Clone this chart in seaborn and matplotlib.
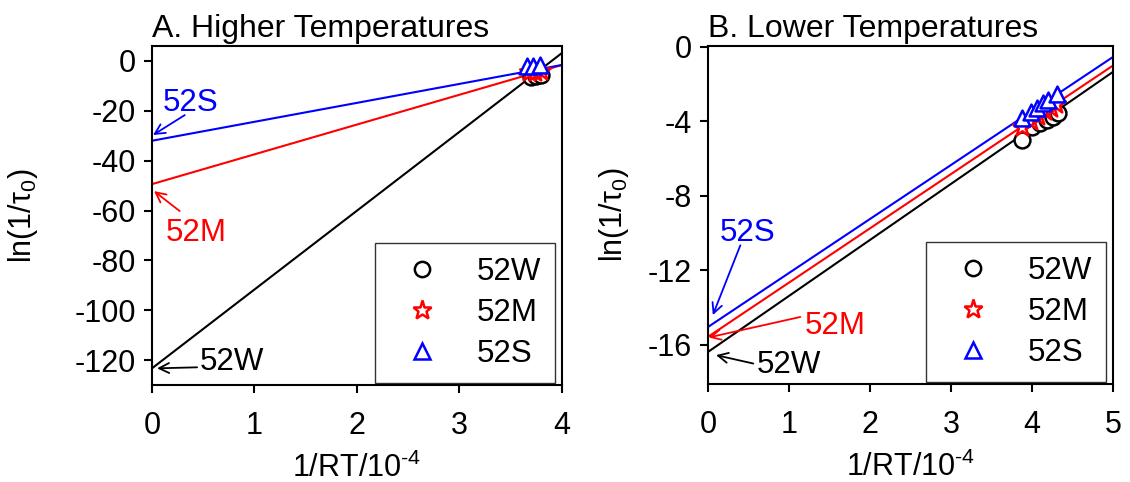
import pandas as pd
import matplotlib.pyplot as plt
import seaborn as sns
from matplotlib.lines import Line2D

# samples, colours and markers
samples = ['52W', '52M', '52S']
colors = {'52W': 'black', '52M': 'red', '52S': 'blue'}
markers = {'52W': 'o', '52M': '*', '52S': '^'}

# A. higher temperatures: measured points
hi_x = {'52W': [3.70, 3.75, 3.80], '52M': [3.68, 3.74, 3.80], '52S': [3.66, 3.72, 3.79]}
hi_y = {'52W': [-6.4, -6.0, -5.7], '52M': [-4.6, -4.4, -4.1], '52S': [-2.2, -1.9, -1.7]}
# fitted lines, end points at x=0 and x=4
hi_line_x = [0, 4]
hi_line_y = {'52W': [-123.3, 3.2], '52M': [-49.4, -1.6], '52S': [-32.0, -1.6]}

# B. lower temperatures: measured points
lo_x = {'52W': [3.88, 4.00, 4.10, 4.19, 4.26, 4.32],
        '52M': [3.88, 3.99, 4.08, 4.16, 4.23, 4.30],
        '52S': [3.88, 3.99, 4.06, 4.14, 4.20, 4.31]}
lo_y = {'52W': [-5.0, -4.3, -4.09, -3.92, -3.76, -3.55],
        '52M': [-4.28, -3.96, -3.70, -3.46, -3.26, -3.06],
        '52S': [-3.79, -3.47, -3.27, -3.03, -2.86, -2.54]}
lo_line_x = [0, 5]
lo_line_y = {'52W': [-16.38, -1.34], '52M': [-15.57, -1.0], '52S': [-15.04, -0.54]}

sns.set_theme(style='ticks')
plt.rcParams['font.family'] = ['Liberation Sans', 'DejaVu Sans']
plt.rcParams['axes.unicode_minus'] = False
plt.rcParams['mathtext.fontset'] = 'custom'
plt.rcParams['mathtext.rm'] = 'Liberation Sans'
plt.rcParams['mathtext.it'] = 'Liberation Sans'
plt.rcParams['text.color'] = 'black'
plt.rcParams['axes.labelcolor'] = 'black'

fig = plt.figure(figsize=(11.3, 4.82), dpi=100)
axA = fig.add_axes([0.1345, 0.2012, 0.3628, 0.7033])
axB = fig.add_axes([0.6265, 0.2033, 0.3584, 0.7012])


def draw(ax, px, py, lx, ly):
    for s in samples:
        line_df = pd.DataFrame({'x': lx, 'y': ly[s]})
        sns.lineplot(data=line_df, x='x', y='y', color=colors[s], lw=1.5, ax=ax)
    for s in samples:
        pts = pd.DataFrame({'x': px[s], 'y': py[s]})
        size = 200 if s == '52M' else 130
        sns.scatterplot(data=pts, x='x', y='y', marker=markers[s], s=size,
                        facecolor='white', edgecolor=colors[s], linewidth=1.8,
                        ax=ax, zorder=3)


draw(axA, hi_x, hi_y, hi_line_x, hi_line_y)
draw(axB, lo_x, lo_y, lo_line_x, lo_line_y)

axA.set_xlim(0, 4)
axA.set_ylim(-130, 6)
axA.set_xticks([0, 1, 2, 3, 4])
axA.set_yticks([0, -20, -40, -60, -80, -100, -120])
axB.set_xlim(0, 5)
axB.set_ylim(-18.1, 0.05)
axB.set_xticks([0, 1, 2, 3, 4, 5])
axB.set_yticks([0, -4, -8, -12, -16])

FS = 22
for ax, title, ylab_x in [(axA, 'A. Higher Temperatures', -0.273),
                          (axB, 'B. Lower Temperatures', -0.19)]:
    ax.set_title(title, loc='left', fontsize=23, pad=6.5)
    ax.set_xlabel('$\\mathregular{1/RT/10^{‐4}}$', fontsize=FS)
    ax.set_ylabel('$\\mathregular{ln(1/τ_0)}$', fontsize=FS)
    ax.yaxis.set_label_coords(ylab_x, 0.5)
    ax.xaxis.set_label_coords(0.5, -0.2)
    ax.tick_params(axis='both', direction='out', length=5.5, width=1.5,
                   labelsize=FS, colors='black')
    ax.tick_params(axis='x', pad=13)
    ax.tick_params(axis='y', pad=6)
    for sp in ax.spines.values():
        sp.set_linewidth(1.5)
        sp.set_color('black')
    handles = [Line2D([], [], ls='none', marker=markers[s], color=colors[s],
                      markerfacecolor='white', markersize=14 if s == '52M' else 11,
                      markeredgewidth=1.8) for s in samples]
    leg = ax.legend(handles, samples, loc='lower right', fontsize=22.5,
                    bbox_to_anchor=(0.983, 0.006), borderaxespad=0,
                    frameon=True, fancybox=False, edgecolor='black',
                    borderpad=0.45, labelspacing=0.35, handlelength=2.1,
                    handletextpad=0.7)
    leg.get_frame().set_linewidth(1.0)

arrow = dict(arrowstyle='->', lw=1.3, mutation_scale=18, shrinkA=0, shrinkB=0)

# annotations, panel A: (label, text pos, arrow tail, arrow tip)
notes_A = [('52S', (0.1, -16.9), (0.32, -21.7), (0.01, -29.7)),
           ('52M', (0.13, -69.0), (0.27, -60.2), (0.02, -52.2)),
           ('52W', (0.47, -120.9), (0.44, -122.9), (0.05, -123.3))]
# annotations, panel B
notes_B = [('52S', (0.15, -10.0), (0.40, -10.65), (0.06, -14.4)),
           ('52M', (1.2, -15.0), (1.14, -14.5), (0.01, -15.6)),
           ('52W', (0.6, -17.1), (0.56, -17.0), (0.1, -16.55))]

for ax, notes in [(axA, notes_A), (axB, notes_B)]:
    for s, tpos, tail, tip in notes:
        ax.text(tpos[0], tpos[1], s, color=colors[s], fontsize=22.5,
                ha='left', va='center')
        ax.annotate('', xy=tip, xytext=tail,
                    arrowprops=dict(arrow, color=colors[s]))

fig.savefig('out.png', dpi=100)
